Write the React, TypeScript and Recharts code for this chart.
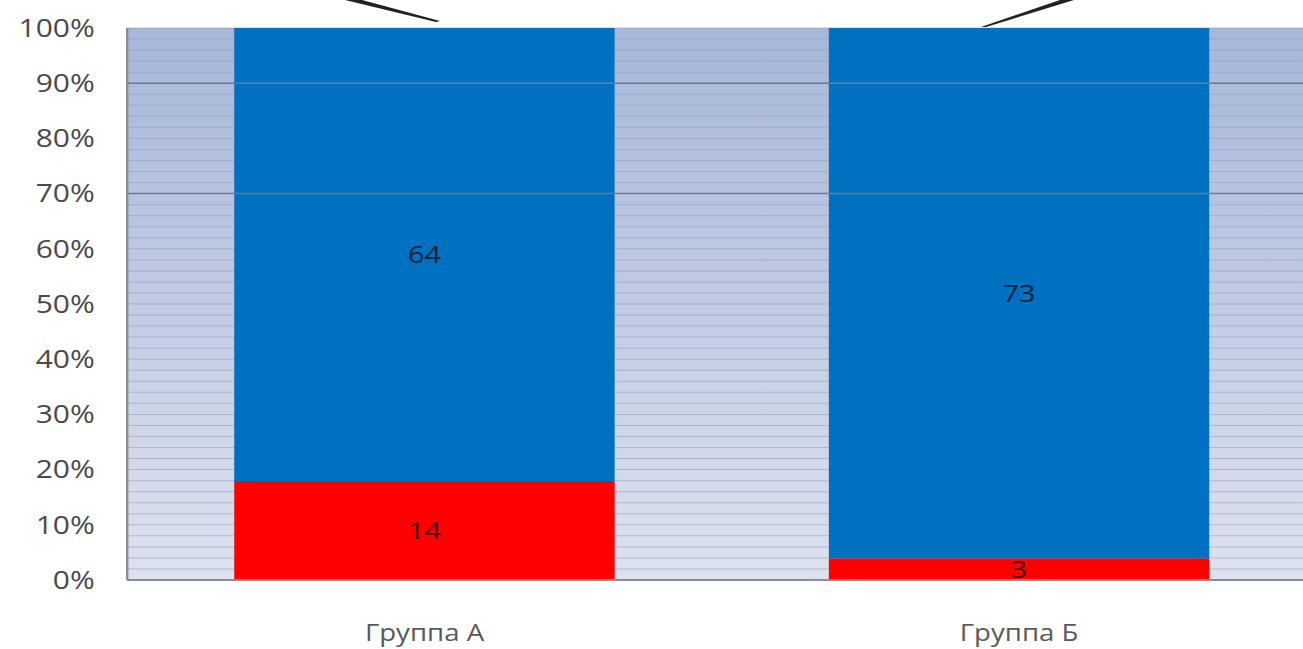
import React from 'react'
import { BarChart, Bar, XAxis, YAxis, CartesianGrid, LabelList, ReferenceLine } from 'recharts'

const categories = ['Группа А', 'Группа Б']
const redValues = [14, 3]
const blueValues = [64, 73]
const yTicks = [0, 0.1, 0.2, 0.3, 0.4, 0.5, 0.6, 0.7, 0.8, 0.9, 1]
const stripeTicks = Array.from({ length: 51 }, (_, i) => i / 50)
const majorLines = [0.9, 0.7]

const data = categories.map((name, i) => ({
  name,
  red: redValues[i],
  blue: blueValues[i],
}))

const FONT = '"Open Sans", "Noto Sans", sans-serif'
// the source picture is stretched sideways, so the whole chart is too
const SX = 1.2

export default function App() {
  return (
    <div style={{ position: 'fixed', left: 0, top: 0, width: 1303, height: 649, overflow: 'hidden', background: '#fff' }}>
      <div style={{ transform: `scaleX(${SX})`, transformOrigin: '0 0', width: 1316 / SX }}>
        <BarChart
          width={Math.round(1316 / SX)}
          height={649}
          data={data}
          stackOffset="expand"
          barCategoryGap="18%"
          margin={{ top: 28, right: 0, bottom: 0, left: 0 }}
        >
          <defs>
            <linearGradient id="plotBg" x1="0" y1="0" x2="0" y2="1">
              <stop offset="0%" stopColor="#a7b7da" />
              <stop offset="45%" stopColor="#bfc9e3" />
              <stop offset="100%" stopColor="#dde2ef" />
            </linearGradient>
          </defs>
          <CartesianGrid
            vertical={false}
            fill="url(#plotBg)"
            stroke="#97a0b6"
            strokeOpacity={0.6}
            horizontalCoordinatesGenerator={({ offset }: any) =>
              stripeTicks.map((t) => offset.top + offset.height * (1 - t))
            }
          />
          <XAxis
            dataKey="name"
            height={69}
            tickSize={0}
            tickMargin={45}
            axisLine={{ stroke: '#8c8c8c', strokeWidth: 2 }}
            tick={{ fill: '#5a5a5a', fontSize: 23, fontFamily: FONT }}
          />
          <YAxis
            type="number"
            domain={[0, 1]}
            ticks={yTicks}
            width={106}
            tickSize={0}
            tickMargin={27}
            interval={0}
            axisLine={{ stroke: '#8c8c8c', strokeWidth: 2 }}
            tickFormatter={(v) => `${Math.round(v * 100)}%`}
            tick={{ fill: '#4a4a4a', fontSize: 25, fontFamily: FONT }}
          />
          {majorLines.map((v) => (
            <ReferenceLine key={v} y={v} stroke="#6e7a94" strokeWidth={1.5} />
          ))}
          <Bar dataKey="red" stackId="a" fill="#ff0000" isAnimationActive={false}>
            <LabelList dataKey="red" position="center" fill="#4a0000" fontSize={24} fontFamily={FONT} />
          </Bar>
          <Bar dataKey="blue" stackId="a" fill="#0070c0" isAnimationActive={false}>
            <LabelList dataKey="blue" position="center" fill="#0b1f3a" fontSize={24} fontFamily={FONT} />
          </Bar>
        </BarChart>
      </div>
      <svg width={1303} height={40} style={{ position: 'absolute', left: 0, top: 0, pointerEvents: 'none' }}>
        <polygon points="345,0 362,0 440,21 436,22" fill="#222" />
        <polygon points="1060,0 1074,0 986,27 981,27" fill="#222" />
      </svg>
    </div>
  )
}
